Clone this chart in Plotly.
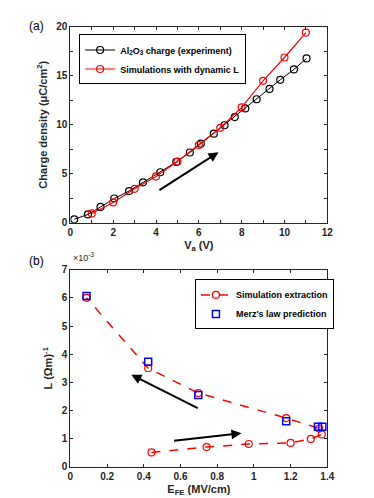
import plotly.graph_objects as go

# panel (a): charge density vs applied voltage
exp_va = [0.18, 0.82, 1.41, 2.05, 2.74, 3.39, 4.2, 4.95, 5.58, 6.09, 6.7, 7.2,
          7.68, 8.17, 8.7, 9.3, 9.8, 10.44, 11.03]
exp_q = [0.36, 0.86, 1.62, 2.48, 3.24, 4.13, 5.16, 6.21, 7.17, 8.07, 9.09, 9.95,
         10.78, 11.67, 12.6, 13.65, 14.58, 15.64, 16.76]
sim_va = [1, 2, 3, 4, 5, 6, 7, 8, 9, 10, 11]
sim_q = [0.96, 2.08, 3.47, 4.73, 6.25, 7.93, 9.69, 11.77, 14.48, 16.86, 19.40]

# panel (b): L vs E_FE
sim_e = [0.442, 0.742, 0.972, 1.20, 1.31, 1.37, 1.356, 1.176, 0.697, 0.424, 0.088]
sim_l = [0.51, 0.70, 0.81, 0.85, 0.99, 1.15, 1.36, 1.73, 2.62, 3.50, 6.0]
merz_e = [0.088, 0.424, 0.697, 1.176, 1.349, 1.373]
merz_l = [6.07, 3.73, 2.55, 1.62, 1.42, 1.42]

FONT = "Liberation Sans, Arial, sans-serif"
INK = "#262626"

fig = go.Figure()
fig.add_trace(go.Scatter(
    x=exp_va, y=exp_q, mode="lines+markers", name="Al<sub>2</sub>O<sub>3</sub> charge (experiment)",
    line=dict(color="black", width=1), marker=dict(symbol="circle-open", size=7, color="black", line=dict(width=1.2)),
    xaxis="x", yaxis="y", legend="legend",
))
fig.add_trace(go.Scatter(
    x=sim_va, y=sim_q, mode="lines+markers", name="Simulations with dynamic L",
    line=dict(color="red", width=1.2), marker=dict(symbol="circle-open", size=7, color="red", line=dict(width=1.2)),
    xaxis="x", yaxis="y", legend="legend",
))
fig.add_trace(go.Scatter(
    x=sim_e, y=[v * 1e-3 for v in sim_l], mode="lines+markers", name="Simulation extraction",
    line=dict(color="red", width=1.5, dash="dash"),
    marker=dict(symbol="circle-open", size=7, color="red", line=dict(width=1.2)),
    xaxis="x2", yaxis="y2", legend="legend2",
))
fig.add_trace(go.Scatter(
    x=merz_e, y=[v * 1e-3 for v in merz_l], mode="markers", name="Merz's law prediction",
    marker=dict(symbol="square-open", size=7, color="blue", line=dict(width=1.5)),
    xaxis="x2", yaxis="y2", legend="legend2",
))

ax_common = dict(
    showline=True, linecolor=INK, linewidth=1, mirror="ticks", ticks="inside", ticklen=3,
    tickcolor=INK, showgrid=False, zeroline=False,
    tickfont=dict(family=FONT, size=10, color=INK, weight="bold"),
    title_font=dict(family=FONT, size=11, color=INK, weight="bold"),
)

xd = [61 / 374, 325 / 374]
fig.update_layout(
    width=374, height=498, margin=dict(l=0, r=0, t=0, b=0),
    plot_bgcolor="white", paper_bgcolor="white",
    font=dict(family=FONT, color=INK),
    xaxis=dict(domain=xd, range=[0, 12], dtick=2, anchor="y",
               minor=dict(dtick=1, ticks="inside", ticklen=3, tickcolor=INK, showgrid=False),
               title=dict(text="V<sub>a</sub> (V)", standoff=4), **ax_common),
    yaxis=dict(domain=[1 - 214 / 498, 1 - 13 / 498], range=[0, 20], dtick=5, anchor="x",
               minor=dict(dtick=2.5, ticks="inside", ticklen=3, tickcolor=INK, showgrid=False),
               title=dict(text="Charge density (μC/cm<sup>2</sup>)", standoff=6), **ax_common),
    xaxis2=dict(domain=xd, range=[0, 1.4], dtick=0.2, anchor="y2",
                title=dict(text="E<sub>FE</sub> (MV/cm)", standoff=4), **ax_common),
    yaxis2=dict(domain=[1 - 464 / 498, 1 - 262 / 498], range=[0, 0.007], dtick=0.001, anchor="x2",
                tickvals=[i * 1e-3 for i in range(8)], ticktext=[str(i) for i in range(8)],
                title=dict(text="L (Ωm)<sup>-1</sup>", standoff=6), **ax_common),
    legend=dict(x=70 / 374, y=1 - 21 / 498, xanchor="left", yanchor="top",
                bordercolor="black", borderwidth=1, bgcolor="white",
                font=dict(family=FONT, size=9, color="black", weight="bold"),
                tracegroupgap=0, itemwidth=30),
    legend2=dict(x=189 / 374, y=1 - 272 / 498, xanchor="left", yanchor="top",
                 bordercolor="black", borderwidth=1, bgcolor="white",
                 font=dict(family=FONT, size=9, color="black", weight="bold"),
                 tracegroupgap=0, itemwidth=30),
    showlegend=True,
)

arrow = dict(showarrow=True, arrowhead=2, arrowsize=1, arrowwidth=2, arrowcolor="black", text="")
fig.add_annotation(x=6.92, y=7.2, ax=4.09, ay=3.24, xref="x", yref="y", axref="x", ayref="y", **arrow)
fig.add_annotation(x=0.332, y=3.27e-3, ax=0.702, ay=2.06e-3, xref="x2", yref="y2",
                   axref="x2", ayref="y2", **arrow)
fig.add_annotation(x=0.932, y=1.19e-3, ax=0.557, ay=0.92e-3, xref="x2", yref="y2",
                   axref="x2", ayref="y2", **arrow)

for txt, yy in [("(a)", 12), ("(b)", 253)]:
    fig.add_annotation(text=txt, x=16 / 374, y=1 - yy / 498, xref="paper", yref="paper",
                       showarrow=False, xanchor="left", yanchor="middle",
                       font=dict(family=FONT, size=12, color="black"))
fig.add_annotation(text="×10<sup>-3</sup>", x=62 / 374, y=1 - 257 / 498, xref="paper", yref="paper",
                   showarrow=False, xanchor="left", yanchor="bottom",
                   font=dict(family=FONT, size=9, color=INK))

fig.write_html("out.html")
